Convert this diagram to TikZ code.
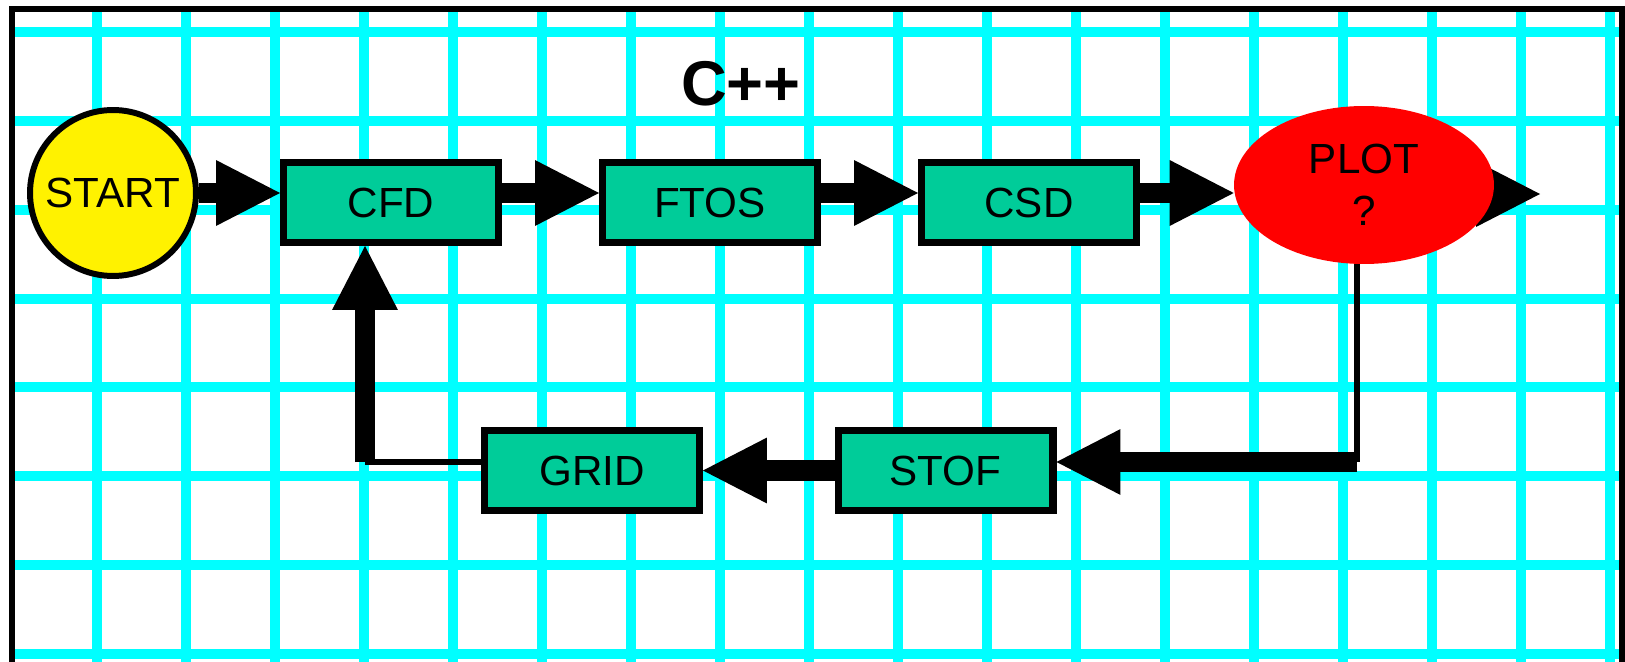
\documentclass[tikz,border=0pt]{standalone}
\usepackage{fontspec}
\setmainfont{Liberation Sans}
\usetikzlibrary{arrows.meta,shapes.geometric}
\definecolor{gridcyan}{RGB}{0,255,255}
\definecolor{stagegreen}{RGB}{0,204,153}
\pgfdeclarelayer{bg}
\pgfdeclarelayer{mid}
\pgfsetlayers{bg,mid,main}
\tikzset{
  gridline/.style={gridcyan, line width=5.7pt},
  stage/.style={draw, line width=4pt, fill=stagegreen, minimum width=4.3cm,
    minimum height=1.6cm, inner sep=0pt, font=\fontsize{24}{29.6}\selectfont},
  flow/.style={line width=11.7pt,
    -{Triangle[length=36.4pt, width=37.5pt, line width=0pt]}},
  feed/.style={line width=3.2pt},
}
\begin{document}
\begin{tikzpicture}[x=0.02cm, y=-0.02cm]
    \useasboundingbox (0,0) rectangle (1625,662);
    % Paper with cyan grid
    \begin{pgfonlayer}{bg}
        \fill[white] (0,0) rectangle (1625,662);
        \foreach \gx in {0,...,17}
            \draw[gridline] (97+89*\gx,9) -- (97+89*\gx,662);
        \foreach \gy in {0,...,7}
            \draw[gridline] (12,32+88.86*\gy) -- (1622,32+88.86*\gy);
        \draw[line width=3.4pt] (12,662) -- (12,9) -- (1622,9) -- (1622,662);
    \end{pgfonlayer}
    % Stages
    \node[draw, circle, line width=3.4pt, fill=yellow, minimum size=3.32cm,
        inner sep=0pt, font=\fontsize{24}{29.6}\selectfont] (start) at (113,193) {START};
    \node[stage] (cfd) at (391,202.5) {CFD};
    \node[stage] (ftos) at (710,202.5) {FTOS};
    \node[stage] (csd) at (1029,202.5) {CSD};
    \node[stage] (grid) at (592,470.5) {GRID};
    \node[stage] (stof) at (945.5,470.5) {STOF};
    \node[ellipse, fill=red, minimum width=5.2cm, minimum height=3.16cm, inner sep=0pt,
        align=center, font=\fontsize{24}{29.6}\selectfont] (plot) at (1364,185) {PLOT\\?};
    \node[font=\fontsize{36}{43}\selectfont\bfseries, inner sep=0pt] (title) at (741,84) {C++};
    % Forward chain
    \draw[flow] (start.east) -- (start.east -| cfd.west);
    \draw[flow] (cfd.east |- start.east) -- (ftos.west |- start.east);
    \draw[flow] (ftos.east |- start.east) -- (csd.west |- start.east);
    \draw[flow] (csd.east |- start.east) -- (plot.west |- start.east);
    \coordinate (out) at (1540,194);
    \begin{pgfonlayer}{mid}
        \draw[flow] (plot.center |- out) -- (out);
    \end{pgfonlayer}
    % Loop back
    \coordinate (turn) at (1357,462);
    \coordinate (corner) at (365,462);
    \draw[feed] (plot.south -| turn) -- (turn);
    \draw[flow] (turn) -- (stof.east |- turn);
    \draw[flow] (stof.west) -- (grid.east);
    \draw[feed] (grid.west |- corner) -- (corner);
    \draw[flow] (corner) -- (corner |- cfd.south);
\end{tikzpicture}
\end{document}
